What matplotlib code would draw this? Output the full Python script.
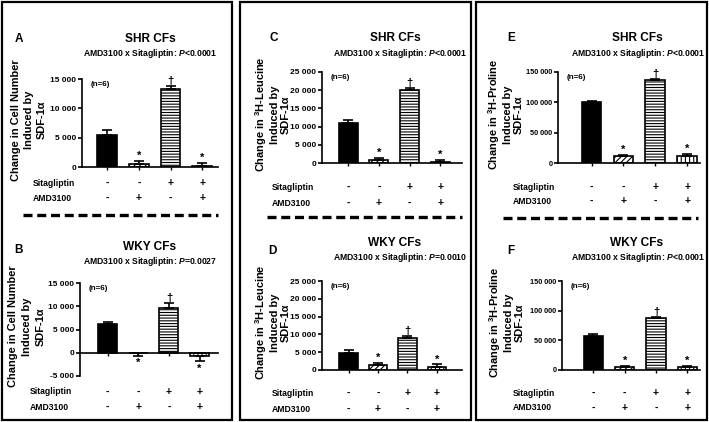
import matplotlib
matplotlib.use('Agg')
import matplotlib.pyplot as plt
from matplotlib.patches import Rectangle
from matplotlib.lines import Line2D
from matplotlib.ticker import FuncFormatter

# treatment rows under each panel
sitagliptin = ['-', '-', '+', '+']
amd3100 = ['-', '+', '-', '+']

# bar means and SEM
A_mean = [5500, 450, 13350, 170]
A_sem = [850, 650, 400, 560]
B_mean = [6100, -150, 9700, -800]
B_sem = [500, 450, 1100, 900]
C_mean = [11100, 800, 20050, 200]
C_sem = [750, 550, 650, 650]
D_mean = [4850, 1300, 8850, 900]
D_sem = [900, 700, 700, 650]
E_mean = [100000, 11000, 136000, 12000]
E_sem = [2500, 2500, 2000, 3000]
F_mean = [58000, 5000, 88000, 4500]
F_sem = [2000, 2000, 1500, 2000]

W, H = 709, 422
plt.rcParams['font.family'] = 'Liberation Sans'
plt.rcParams['font.weight'] = 'bold'
plt.rcParams['mathtext.fontset'] = 'custom'
plt.rcParams['mathtext.rm'] = 'Liberation Sans:bold'
plt.rcParams['mathtext.it'] = 'Liberation Sans:bold:italic'
plt.rcParams['mathtext.bf'] = 'Liberation Sans:bold'
plt.rcParams['hatch.linewidth'] = 0.8
plt.rcParams['lines.scale_dashes'] = False

fig = plt.figure(figsize=(W / 100, H / 100), dpi=100)


def fx(x):
    return x / W


def fy(y):
    return 1 - y / H


def ftext(x, y, s, **kw):
    fig.text(fx(x), fy(y), s, **kw)


def thousands(v, pos):
    return '{:,}'.format(int(v)).replace(',', ' ')


hatches = [None, '//////', '------', '||||']
fills = ['black', 'white', 'white', 'white']


def panel(box, mean, sem, ylim, step, letter, title, pval, ylab, lab, row_x, xlim, tsize=6):
    x0, x1, ytop, ybot = box
    ax = fig.add_axes([fx(x0), fy(ybot), fx(x1 - x0), (ybot - ytop) / H])
    xs = list(range(len(mean)))
    for i in xs:
        ax.bar(xs[i], mean[i], width=0.62, color=fills[i], edgecolor='black',
               linewidth=1.2, hatch=hatches[i], zorder=2)
        lo = [sem[i]] if mean[i] < 0 else [0]
        hi = [0] if mean[i] < 0 else [sem[i]]
        ax.errorbar(xs[i], mean[i], yerr=[lo, hi], fmt='none', ecolor='black',
                    elinewidth=1.2, capsize=3.5, capthick=1.2, zorder=3)
        end = mean[i] - sem[i] if mean[i] < 0 else mean[i] + sem[i]
        mark = '†' if i == 2 else ('*' if i in (1, 3) else '')
        if mark:
            if mean[i] < 0:
                ax.annotate(mark, (xs[i], end), xytext=(0, -2), textcoords='offset points',
                            ha='center', va='top', fontsize=8)
            else:
                ax.annotate(mark, (xs[i], end), xytext=(0, 0), textcoords='offset points',
                            ha='center', va='bottom', fontsize=8)
    ax.set_xlim(*xlim)
    ax.set_ylim(*ylim)
    ax.set_yticks(range(ylim[0], ylim[1] + 1, step))
    ax.yaxis.set_major_formatter(FuncFormatter(thousands))
    ax.set_xticks(xs)
    ax.set_xticklabels([])
    for s in ['top', 'right']:
        ax.spines[s].set_visible(False)
    for s in ['left', 'bottom']:
        ax.spines[s].set_linewidth(1.2)
    ax.spines['bottom'].set_position(('data', 0))
    ax.tick_params(axis='y', length=3, width=1.2, labelsize=tsize, pad=1)
    ax.tick_params(axis='x', length=2.5, width=1.0)
    ax.text(0.06, 0.98, '(n=6)', transform=ax.transAxes, fontsize=5.8, va='top')
    # titles
    ftext(letter[1], letter[2], letter[0], fontsize=8.5, ha='left', va='center')
    ftext(title[1], title[2], title[0], fontsize=8.6, ha='center', va='center')
    ftext(title[3], title[2] + 15, 'AMD3100 x Sitagliptin: $P$' + pval,
          fontsize=6.2, ha='center', va='center')
    ftext(lab[0], (ytop + ybot) / 2 - 3, ylab, fontsize=7.9, rotation=90,
          ha='center', va='center', multialignment='center', linespacing=lab[1])
    # treatment rows
    for row, vals in zip(row_x[1:], [sitagliptin, amd3100]):
        ftext(row_x[0], row, 'Sitagliptin' if vals is sitagliptin else 'AMD3100',
              fontsize=6.2, ha='left', va='center')
        for i, v in enumerate(vals):
            px = ax.transData.transform((xs[i], 0))[0]
            fig.text(px / fig.bbox.width, fy(row), v, fontsize=7.5, ha='center', va='center')
    return ax


cell = 'Change in Cell Number\nInduced by\nSDF-1α'
leu = 'Change in $^{3}$H-Leucine\nInduced by\nSDF-1α'
pro = 'Change in $^{3}$H-Proline\nInduced by\nSDF-1α'

panel((82, 218, 79, 167), A_mean, A_sem, (0, 15000), 5000, ('A', 15, 39),
      ('SHR CFs', 150, 39, 150), '<0.0001', cell, (29, 1.4), (33, 183, 198), (-0.8, 3.5))
panel((80, 218, 283, 376), B_mean, B_sem, (-5000, 15000), 5000, ('B', 14, 250),
      ('WKY CFs', 150, 247, 150), '=0.0027', cell, (27, 1.45), (30, 392, 407), (-0.9, 3.6))
panel((322, 462, 72, 163), C_mean, C_sem, (0, 25000), 5000, ('C', 269, 38),
      ('SHR CFs', 395, 38, 400), '<0.0001', leu, (272, 1.15), (272, 187, 203), (-0.85, 3.7))
panel((322, 462, 281, 370), D_mean, D_sem, (0, 25000), 5000, ('D', 268, 251),
      ('WKY CFs', 395, 243, 400), '=0.0010', leu, (272, 1.15), (272, 393, 409), (-0.9, 3.85))
panel((558, 700, 72, 163), E_mean, E_sem, (0, 150000), 50000, ('E', 507, 38),
      ('SHR CFs', 637, 38, 638), '<0.0001', pro, (505, 1.1), (513, 187, 201), (-1.05, 3.4), 5.2)
panel((562, 700, 281, 370), F_mean, F_sem, (0, 150000), 50000, ('F', 507, 251),
      ('WKY CFs', 637, 243, 638), '<0.0001', pro, (506, 1.1), (513, 393, 408), (-1.0, 3.4), 5.2)

# outer frames
for bx0, bx1 in [(2, 232), (240, 471), (476, 707)]:
    fig.add_artist(Rectangle((fx(bx0), fy(420)), fx(bx1 - bx0), (420 - 2) / H,
                             transform=fig.transFigure, fill=False, lw=1.6, ec='black'))

# dashed separators
for lx0, lx1, ly in [(23, 218, 215), (267, 462, 217), (503, 698, 218)]:
    fig.add_artist(Line2D([fx(lx0), fx(lx1)], [fy(ly), fy(ly)], transform=fig.transFigure,
                          color='black', lw=2.4, dashes=(6.5, 3.4), solid_capstyle='butt',
                          dash_capstyle='butt'))

fig.savefig('out.png', dpi=100)
